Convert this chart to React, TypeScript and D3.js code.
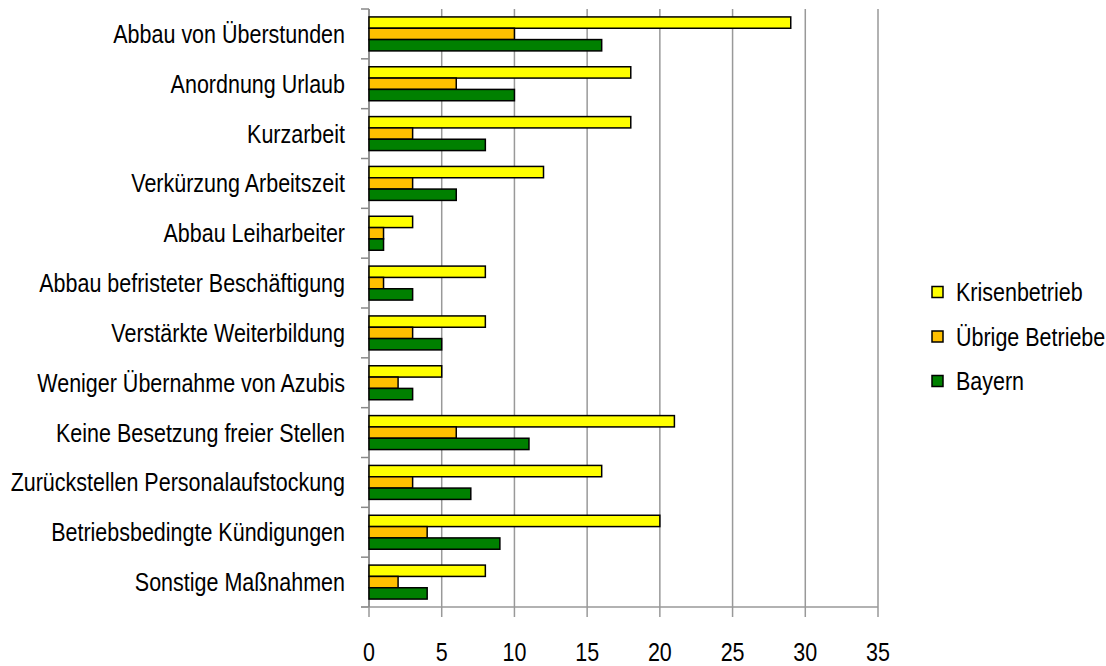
import * as d3 from 'd3';

const categories = [
  'Abbau von Überstunden',
  'Anordnung Urlaub ',
  'Kurzarbeit',
  'Verkürzung Arbeitszeit',
  'Abbau Leiharbeiter',
  'Abbau befristeter Beschäftigung ',
  'Verstärkte Weiterbildung',
  'Weniger Übernahme von Azubis',
  'Keine Besetzung  freier Stellen',
  'Zurückstellen Personalaufstockung ',
  'Betriebsbedingte Kündigungen ',
  'Sonstige Maßnahmen',
];

const seriesNames = ['Krisenbetrieb', 'Übrige Betriebe', 'Bayern'];
const seriesColors = ['#FFFF00', '#FFC000', '#008000'];

const krisenbetrieb = [29, 18, 18, 12, 3, 8, 8, 5, 21, 16, 20, 8];
const uebrigeBetriebe = [10, 6, 3, 3, 1, 1, 3, 2, 6, 3, 4, 2];
const bayern = [16, 10, 8, 6, 1, 3, 5, 3, 11, 7, 9, 4];

const xTicks = [0, 5, 10, 15, 20, 25, 30, 35];

const W = 1106;
const H = 666;
const MARGIN = { top: 9, right: 228, bottom: 59, left: 369 };
const FONT = "'Liberation Sans', Arial, sans-serif";
const SQUEEZE = 0.86; // text in the original is horizontally condensed

const Label = ({ x, y, anchor, children }: { x: number; y: number; anchor: string; children: any }) => (
  <text
    transform={`translate(${x},${y}) scale(${SQUEEZE},1)`}
    textAnchor={anchor}
    fontSize={25}
    fontFamily={FONT}
    fill="#000"
  >
    {children}
  </text>
);

export default function App() {
  const innerW = W - MARGIN.left - MARGIN.right;
  const innerH = H - MARGIN.top - MARGIN.bottom;
  const values = [krisenbetrieb, uebrigeBetriebe, bayern];

  const xScale = d3.scaleLinear().domain([0, 35]).range([0, innerW]);
  const yScale = d3.scaleBand().domain(categories).range([0, innerH]).padding(0);
  const sub = d3
    .scaleBand()
    .domain(seriesNames)
    .range([0, yScale.bandwidth()])
    .paddingInner(0)
    .paddingOuter(0.7);

  const legendY = d3.scalePoint().domain(seriesNames).range([292, 381]);

  return (
    <svg width={W} height={H} style={{ position: 'absolute', left: 0, top: 0, background: '#fff' }}>
      <g transform={`translate(${MARGIN.left},${MARGIN.top})`}>
        {/* gridlines */}
        {xTicks.map(t => (
          <line key={'g' + t} x1={xScale(t)} x2={xScale(t)} y1={0} y2={innerH} stroke="#999" strokeWidth={1.5} />
        ))}
        {/* y axis ticks at category boundaries */}
        {d3.range(categories.length + 1).map(i => (
          <line key={'yt' + i} x1={-8} x2={0} y1={i * yScale.step()} y2={i * yScale.step()} stroke="#888" strokeWidth={1.5} />
        ))}
        {/* x axis ticks */}
        {xTicks.map(t => (
          <line key={'xt' + t} x1={xScale(t)} x2={xScale(t)} y1={innerH} y2={innerH + 10} stroke="#999" strokeWidth={1.5} />
        ))}
        <line x1={-8} x2={innerW} y1={innerH} y2={innerH} stroke="#999" strokeWidth={1.5} />
        <line x1={0} x2={0} y1={0} y2={innerH} stroke="#888" strokeWidth={1.5} />

        {/* bars */}
        {categories.map((c, i) => (
          <g key={c} transform={`translate(0,${yScale(c)})`}>
            {seriesNames.map((s, j) => (
              <rect
                key={s}
                x={0}
                y={sub(s)}
                width={xScale(values[j][i])}
                height={sub.bandwidth()}
                fill={seriesColors[j]}
                stroke="#000"
                strokeWidth={1.5}
              />
            ))}
          </g>
        ))}

        {/* category labels */}
        {categories.map(c => (
          <Label key={'l' + c} x={-24} y={(yScale(c) ?? 0) + yScale.bandwidth() / 2 + 9} anchor="end">
            {c}
          </Label>
        ))}

        {/* x tick labels */}
        {xTicks.map(t => (
          <Label key={'xl' + t} x={xScale(t)} y={innerH + 54} anchor="middle">
            {t}
          </Label>
        ))}
      </g>

      {/* legend */}
      {seriesNames.map((s, j) => {
        const cy = legendY(s) ?? 0;
        return (
          <g key={'lg' + s}>
            <rect x={932} y={cy - 5.5} width={11} height={11} fill={seriesColors[j]} stroke="#000" strokeWidth={1.5} />
            <Label x={956} y={cy + 9} anchor="start">
              {s}
            </Label>
          </g>
        );
      })}
    </svg>
  );
}
